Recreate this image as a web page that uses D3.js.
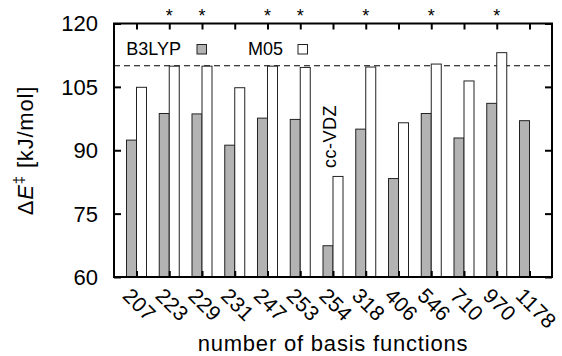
<!DOCTYPE html>
<html>
<head>
<meta charset="utf-8">
<script src="https://cdn.jsdelivr.net/npm/d3@7"></script>
<style>
  body { margin: 0; background: #fff; }
  text { font-family: "Liberation Sans", Arial, Helvetica, sans-serif; fill: #000; }
</style>
</head>
<body>
<div id="chart"></div>
<script>
const categories = ["207", "223", "229", "231", "247", "253", "254", "318", "406", "546", "710", "970", "1178"];
const b3lyp = [92.4, 98.7, 98.6, 91.2, 97.6, 97.3, 67.4, 95.0, 83.3, 98.7, 92.9, 101.1, 97.0];
const m05 = [104.9, 109.9, 109.9, 104.8, 109.9, 109.6, 83.8, 109.7, 96.5, 110.4, 106.4, 113.1, null];
const starred = ["223", "229", "247", "253", "318", "546", "970"];
const yTicks = [60, 75, 90, 105, 120];
const refLine = 110;

const width = 562;
const height = 356;
const margin = { top: 23.5, right: 10, bottom: 79, left: 114 };
const barW = 10;

const svg = d3.select("#chart")
  .append("svg")
  .attr("width", width)
  .attr("height", height);

const x = d3.scalePoint()
  .domain(categories)
  .range([margin.left, width - margin.right])
  .padding(0.687);

const y = d3.scaleLinear()
  .domain([60, 120])
  .range([height - margin.bottom, margin.top]);

const x0 = margin.left, x1 = width - margin.right;
const y0 = height - margin.bottom, y1 = margin.top;

// reference line
svg.append("line")
  .attr("x1", x0).attr("x2", x1)
  .attr("y1", y(refLine)).attr("y2", y(refLine))
  .attr("stroke", "#000")
  .attr("stroke-width", 1.2)
  .attr("stroke-dasharray", "6,4");

// bars
svg.append("g").selectAll("rect")
  .data(categories.map((c, i) => ({ c, v: b3lyp[i] })))
  .join("rect")
  .attr("x", d => x(d.c) - barW)
  .attr("y", d => y(d.v))
  .attr("width", barW)
  .attr("height", d => y0 - y(d.v))
  .attr("fill", "#b3b3b3")
  .attr("stroke", "#222")
  .attr("stroke-width", 1);

svg.append("g").selectAll("rect")
  .data(categories.map((c, i) => ({ c, v: m05[i] })).filter(d => d.v != null))
  .join("rect")
  .attr("x", d => x(d.c))
  .attr("y", d => y(d.v))
  .attr("width", barW)
  .attr("height", d => y0 - y(d.v))
  .attr("fill", "#fff")
  .attr("stroke", "#222")
  .attr("stroke-width", 1);

// axes: ticks inside, mirrored
const tickStyle = g => {
  g.select(".domain").remove();
  g.selectAll(".tick line").attr("stroke", "#000").attr("stroke-width", 2);
};

svg.append("g")
  .attr("transform", `translate(0,${y0})`)
  .call(d3.axisTop(x).tickSize(6).tickFormat(""))
  .call(tickStyle);

svg.append("g")
  .attr("transform", `translate(0,${y1})`)
  .call(d3.axisBottom(x).tickSize(6).tickFormat(""))
  .call(tickStyle);

svg.append("g")
  .attr("transform", `translate(${x0},0)`)
  .call(d3.axisRight(y).tickValues(yTicks).tickSize(7).tickFormat(""))
  .call(tickStyle);

svg.append("g")
  .attr("transform", `translate(${x1},0)`)
  .call(d3.axisLeft(y).tickValues(yTicks).tickSize(7).tickFormat(""))
  .call(tickStyle);

// frame
svg.append("rect")
  .attr("x", x0).attr("y", y1)
  .attr("width", x1 - x0).attr("height", y0 - y1)
  .attr("fill", "none")
  .attr("stroke", "#000")
  .attr("stroke-width", 2);

// y tick labels
svg.append("g").selectAll("text")
  .data(yTicks)
  .join("text")
  .attr("x", 98)
  .attr("y", d => y(d))
  .attr("dy", "0.36em")
  .attr("text-anchor", "end")
  .attr("font-size", 22)
  .text(d => d);

// x tick labels, rotated
svg.append("g").selectAll("text")
  .data(categories)
  .join("text")
  .attr("transform", d => `translate(${x(d) - 15},${y0 + 20}) rotate(45)`)
  .attr("font-size", 21)
  .attr("letter-spacing", 0.4)
  .text(d => d);

// stars
svg.append("g").selectAll("text")
  .data(starred)
  .join("text")
  .attr("x", d => x(d))
  .attr("y", 22)
  .attr("text-anchor", "middle")
  .attr("font-size", 18)
  .text("*");

// legend
const legend = [
  { name: "B3LYP", fill: "#b3b3b3", tx: 181, sx: 197 },
  { name: "M05", fill: "#fff", tx: 283, sx: 298 }
];
legend.forEach(l => {
  svg.append("text")
    .attr("x", l.tx).attr("y", 55)
    .attr("text-anchor", "end")
    .attr("font-size", 18)
    .text(l.name);
  svg.append("rect")
    .attr("x", l.sx).attr("y", 44.5)
    .attr("width", 9.5).attr("height", 9.5)
    .attr("fill", l.fill)
    .attr("stroke", "#222")
    .attr("stroke-width", 1);
});

// annotation
svg.append("text")
  .attr("transform", `translate(336,136.5) rotate(-90)`)
  .attr("text-anchor", "middle")
  .attr("font-size", 18)
  .attr("letter-spacing", 0.5)
  .text("cc-VDZ");

// axis titles
svg.append("text")
  .attr("x", 333).attr("y", 351)
  .attr("text-anchor", "middle")
  .attr("font-size", 22)
  .attr("letter-spacing", 0.8)
  .text("number of basis functions");

const yt = svg.append("text")
  .attr("transform", `translate(33,150.5) rotate(-90)`)
  .attr("text-anchor", "middle")
  .attr("font-size", 22)
  .attr("letter-spacing", 0.8);
yt.append("tspan").text("Δ");
yt.append("tspan").attr("font-style", "italic").text("E");
yt.append("tspan").attr("font-size", 15).attr("dy", -9).text("‡");
yt.append("tspan").attr("dy", 9).text("  [kJ/mol]");
</script>
</body>
</html>
